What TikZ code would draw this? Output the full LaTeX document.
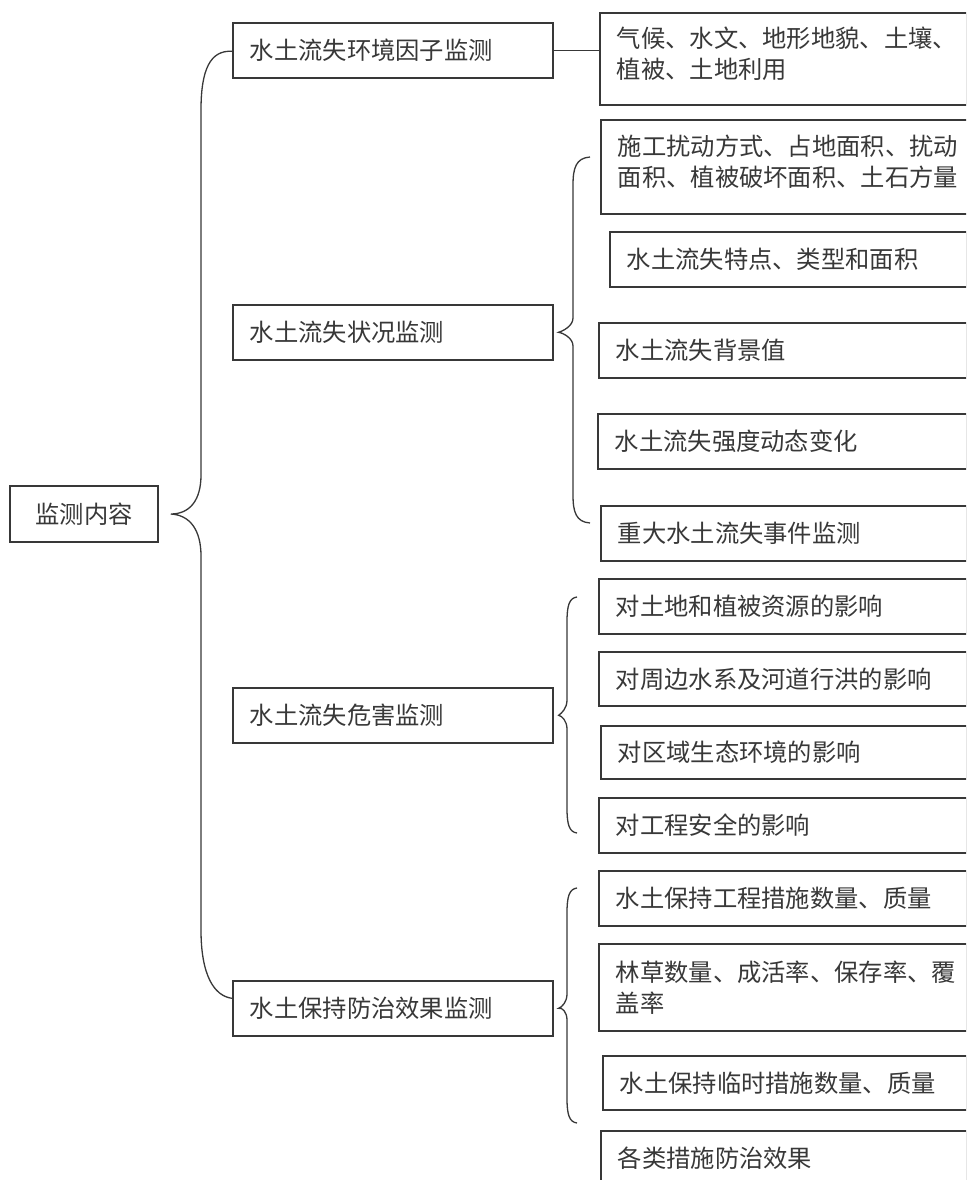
\documentclass[tikz,border=0pt]{standalone}
\usepackage{fontspec}
\setmainfont{Noto Sans CJK SC}
\usetikzlibrary{positioning}

\tikzset{
  boxnode/.style={draw=black!78, line width=1.6pt, anchor=north west, inner xsep=17pt, inner ysep=0pt,
    align=left, text=black!78, font=\fontsize{24.3}{31}\selectfont},
  brace/.style={draw=black!78, line width=1.3pt}
}

\begin{document}
\begin{tikzpicture}[x=1pt,y=-1pt]
        \useasboundingbox (0,0) rectangle (966,1180);
        \clip (0,0) rectangle (966,1180);
        \fill[white](0,0) rectangle (966,1180);

        % root
        \node[boxnode,anchor=center,align=center,inner xsep=0pt,minimum width=148,minimum height=56](root)at(84,514){监测内容};

        % level one
        \node[boxnode,text width=286,minimum height=55](s1)at(232,22){水土流失环境因子监测};
        \node[boxnode,text width=286,minimum height=55](s2)at(232,304){水土流失状况监测};
        \node[boxnode,text width=286,minimum height=55](s3)at(232,687){水土流失危害监测};
        \node[boxnode,text width=286,minimum height=55](s4)at(232,980){水土保持防治效果监测};

        % level two
        \node[boxnode,text width=333,minimum height=92](r1)at(599,12){气候、水文、地形地貌、土壤、\\植被、土地利用\\[-18pt]\mbox{}};
        \node[boxnode,text width=333,minimum height=94](r2)at(600,119){施工扰动方式、占地面积、扰动\\面积、植被破坏面积、土石方量\\[-19pt]\mbox{}};
        \node[boxnode,text width=323,minimum height=55](r3)at(609,231){水土流失特点、类型和面积};
        \node[boxnode,text width=334,minimum height=55](r4)at(598,322){水土流失背景值};
        \node[boxnode,text width=335,minimum height=55](r5)at(597,413){水土流失强度动态变化};
        \node[boxnode,text width=332,minimum height=55](r6)at(600,505){重大水土流失事件监测};
        \node[boxnode,text width=334,minimum height=55](r7)at(598,578){对土地和植被资源的影响};
        \node[boxnode,text width=334,minimum height=54](r8)at(598,651){对周边水系及河道行洪的影响};
        \node[boxnode,text width=332,minimum height=53](r9)at(600,725){对区域生态环境的影响};
        \node[boxnode,text width=334,minimum height=55](r10)at(598,797){对工程安全的影响};
        \node[boxnode,text width=334,minimum height=55](r11)at(598,870){水土保持工程措施数量、质量};
        \node[boxnode,text width=334,minimum height=87](r12)at(598,943){林草数量、成活率、保存率、覆\\盖率};
        \node[boxnode,text width=330,minimum height=54](r13)at(602,1055){水土保持临时措施数量、质量};
        \node[boxnode,text width=332,minimum height=55](r14)at(600,1130){各类措施防治效果};

        % connectors
        \draw[brace](s1.east)--(s1.east-|r1.west);

        \draw[brace]([yshift=-1pt]s1.west)..controls(210,50)and(201,70)..(201,110)--(201,475)
          ..controls(201,500)and(190,514)..([xshift=12pt]root.east)
          ..controls(190,515)and(201,530)..(201,556)--(201,930)
          ..controls(201,975)and(214,996)..([yshift=10pt]s4.west);

        \draw[brace](590,157)..controls(576,158)and(573,168)..(573,185)--(573,318)
          ..controls(573,326)and(563,331)..([xshift=5pt]s2.east)
          ..controls(563,333)and(573,338)..(573,346)--(573,495)
          ..controls(573,512)and(576,522)..(590,523);

        \draw[brace](577,597)..controls(569,598)and(567,606)..(567,622)--(567,700)
          ..controls(567,708)and(562,713)..([xshift=5pt]s3.east)
          ..controls(562,716)and(567,721)..(567,729)--(567,808)
          ..controls(567,824)and(569,832)..(577,833);

        \draw[brace](577,888)..controls(569,889)and(567,897)..(567,913)--(567,994)
          ..controls(567,1002)and(562,1007)..([xshift=5pt]s4.east)
          ..controls(562,1007)and(567,1012)..(567,1020)--(567,1098)
          ..controls(567,1114)and(569,1122)..(577,1123);
    \end{tikzpicture}
\end{document}
